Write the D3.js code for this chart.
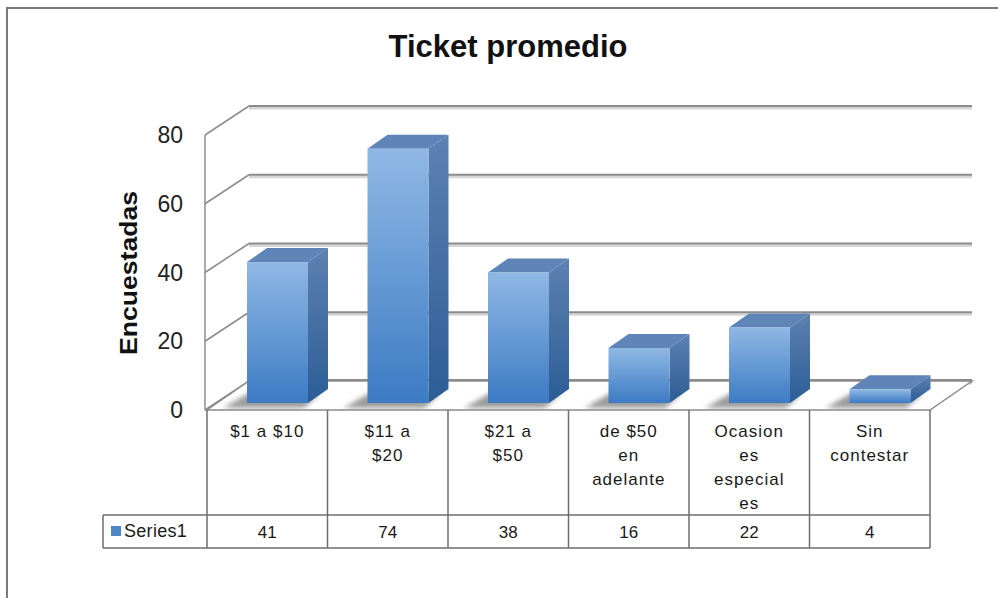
<!DOCTYPE html>
<html><head><meta charset="utf-8">
<script src="https://cdn.jsdelivr.net/npm/d3@7"></script>
<style>body{margin:0;background:#fff}svg{display:block}</style>
</head><body>
<script>
const categories = [["$1 a $10"], ["$11 a", "$20"], ["$21 a", "$50"], ["de $50", "en", "adelante"], ["Ocasion", "es", "especial", "es"], ["Sin", "contestar"]];
const values = [41, 74, 38, 16, 22, 4];
const seriesName = "Series1";
const yTicks = [0, 20, 40, 60, 80];
const title = "Ticket promedio";
const yTitle = "Encuestadas";

const W = 998, H = 598;
const svg = d3.select("body").append("svg").attr("width", W).attr("height", H);
const defs = svg.append("defs");
const gf = defs.append("linearGradient").attr("id", "gFront").attr("x1", 0).attr("y1", 0).attr("x2", 0).attr("y2", 1);
gf.append("stop").attr("offset", "0%").attr("stop-color", "#8fb8e4");
gf.append("stop").attr("offset", "100%").attr("stop-color", "#3d7bc4");
const gs = defs.append("linearGradient").attr("id", "gSide").attr("x1", 0).attr("y1", 0).attr("x2", 0).attr("y2", 1);
gs.append("stop").attr("offset", "0%").attr("stop-color", "#5d81b1");
gs.append("stop").attr("offset", "100%").attr("stop-color", "#2c5d96");
defs.append("filter").attr("id", "blur").append("feGaussianBlur").attr("stdDeviation", 2.5);

// outer border
svg.append("rect").attr("x", 7).attr("y", 8).attr("width", 1000).attr("height", 600)
  .attr("fill", "none").attr("stroke", "#7a7a7a").attr("stroke-width", 2);

// title
svg.append("text").attr("x", 508).attr("y", 57).attr("text-anchor", "middle")
  .attr("font-family", "Liberation Sans, Arial, sans-serif").attr("font-weight", "bold")
  .attr("font-size", 31).attr("fill", "#111").text(title);

// geometry
const x0 = 207, x1 = 930;
const frontBase = 410, backBase = 381, barBase = 403;
const DX = 42;
const bdx = 20, bdy = 14;
const x = d3.scaleBand().domain(d3.range(categories.length)).range([x0, x1]).paddingInner(0).paddingOuter(0);
const y = d3.scaleLinear().domain([0, 80]).range([0, 275]);

const gridSh = svg.append("g").attr("stroke", "#d6d6d6").attr("stroke-width", 3).attr("fill", "none");
const grid = svg.append("g").attr("stroke", "#8c8c8c").attr("stroke-width", 2).attr("fill", "none");
yTicks.forEach(t => {
  const yb = backBase - y(t), yf = frontBase - y(t);
  gridSh.append("line").attr("x1", x0 + DX).attr("x2", x1 + DX).attr("y1", yb + 2).attr("y2", yb + 2);
  grid.append("line").attr("x1", x0 + DX).attr("x2", x1 + DX).attr("y1", yb).attr("y2", yb)
    .attr("stroke-width", t === 0 ? 4 : 2);
  grid.append("line").attr("x1", x0 - 2).attr("x2", x0 + DX).attr("y1", yf).attr("y2", yb).attr("stroke-width", 1.5);
});
grid.append("line").attr("x1", x0 - 2).attr("x2", x0 - 2).attr("y1", frontBase - y(80)).attr("y2", frontBase).attr("stroke-width", 1.5);

// floor
svg.append("path").attr("d", `M${x0},${frontBase}L${x1},${frontBase}L${x1 + DX},${backBase}L${x0 + DX},${backBase}Z`)
  .attr("fill", "#fff").attr("stroke", "#8c8c8c").attr("stroke-width", 1.5);

// shadows
const sh = svg.append("g").attr("filter", "url(#blur)");
values.forEach((v, i) => {
  const bx = x(i) + 40, bw = 61;
  sh.append("path").attr("d", `M${bx - 24},${frontBase - 2}L${bx + bw - 4},${frontBase - 2}L${bx + bw + 12},${barBase - 10}L${bx + 2},${barBase - 10}Z`)
    .attr("fill", "#8a8a8a").attr("opacity", 0.85);
});

// bars
const bars = svg.append("g");
values.forEach((v, i) => {
  const bx = x(i) + 40, bw = 61, top = barBase - y(v);
  bars.append("path").attr("d", `M${bx + bw},${barBase}L${bx + bw},${top}L${bx + bw + bdx},${top - bdy}L${bx + bw + bdx},${barBase - bdy}Z`)
    .attr("fill", "url(#gSide)");
  bars.append("path").attr("d", `M${bx},${top}L${bx + bw},${top}L${bx + bw + bdx},${top - bdy}L${bx + bdx},${top - bdy}Z`)
    .attr("fill", "#5f85b8");
  bars.append("rect").attr("x", bx).attr("y", top).attr("width", bw).attr("height", y(v)).attr("fill", "url(#gFront)");
});

// y tick labels
svg.append("g").selectAll("text").data(yTicks).join("text")
  .attr("x", 183).attr("y", t => frontBase - y(t) + 8).attr("text-anchor", "end")
  .attr("font-family", "Liberation Sans, Arial, sans-serif").attr("font-size", 23).attr("fill", "#222")
  .text(t => t);

// y axis title
svg.append("text").attr("transform", "translate(137,273) rotate(-90)").attr("text-anchor", "middle")
  .attr("font-family", "Liberation Sans, Arial, sans-serif").attr("font-weight", "bold")
  .attr("font-size", 23).attr("fill", "#111")
  .attr("textLength", 164).attr("lengthAdjust", "spacingAndGlyphs").text(yTitle);

// data table
const tbl = svg.append("g");
const rowTop = 515, rowBot = 548, legL = 103;
const tl = tbl.append("g").attr("stroke", "#6e6e6e").attr("stroke-width", 1.5);
tl.append("line").attr("x1", legL).attr("x2", x1).attr("y1", rowTop).attr("y2", rowTop);
tl.append("line").attr("x1", legL).attr("x2", x1).attr("y1", rowBot).attr("y2", rowBot);
tl.append("line").attr("x1", legL).attr("x2", legL).attr("y1", rowTop).attr("y2", rowBot);
d3.range(categories.length + 1).forEach(i => {
  const xx = i < categories.length ? x(i) : x1;
  tl.append("line").attr("x1", xx).attr("x2", xx).attr("y1", frontBase).attr("y2", rowBot);
});
categories.forEach((lines, i) => {
  const cx = x(i) + x.bandwidth() / 2;
  const t = tbl.append("text").attr("text-anchor", "middle")
    .attr("font-family", "Liberation Sans, Arial, sans-serif").attr("font-size", 17)
    .attr("letter-spacing", 1).attr("fill", "#1a1a1a");
  lines.forEach((l, j) => t.append("tspan").attr("x", cx).attr("y", 437 + j * 24).text(l));
  tbl.append("text").attr("x", cx).attr("y", 538).attr("text-anchor", "middle")
    .attr("font-family", "Liberation Sans, Arial, sans-serif").attr("font-size", 17)
    .attr("fill", "#1a1a1a").text(values[i]);
});
tbl.append("rect").attr("x", 111).attr("y", 526).attr("width", 10).attr("height", 10).attr("fill", "#4f86c6");
tbl.append("text").attr("x", 124).attr("y", 537)
  .attr("font-family", "Liberation Sans, Arial, sans-serif").attr("font-size", 18).attr("letter-spacing", 0.3)
  .attr("fill", "#1a1a1a").text(seriesName);
</script>
</body></html>
